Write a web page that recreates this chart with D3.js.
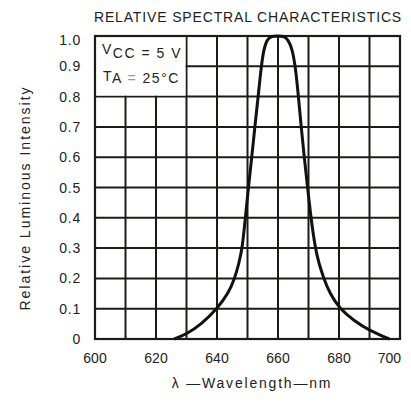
<!DOCTYPE html>
<html>
<head>
<meta charset="utf-8">
<script src="https://cdn.jsdelivr.net/npm/d3@7"></script>
<style>
  html, body { margin: 0; padding: 0; background: #fff; }
  svg { display: block; }
  text { font-family: "Liberation Sans", Arial, Helvetica, sans-serif; fill: #222; }
</style>
</head>
<body>
<svg id="chart" width="411" height="404"></svg>
<script>
// ---- data ----
const wavelength = [626, 630, 635, 640, 643.7, 645.8, 647.2, 648.3, 649.3, 650.3, 651.4, 652.4, 653.5, 654.5, 655.4, 656.5, 658, 660, 661.8, 663.2, 664.6, 665.7, 666.7, 667.6, 668.6, 669.7, 670.8, 672.2, 673.4, 675, 677, 680.2, 685, 690, 696.5];
const intensity  = [0, 0.016, 0.05, 0.1, 0.15, 0.2, 0.25, 0.3, 0.4, 0.5, 0.6, 0.7, 0.8, 0.9, 0.96, 0.99, 1.0, 1.0, 1.0, 0.99, 0.96, 0.9, 0.8, 0.7, 0.6, 0.5, 0.4, 0.3, 0.25, 0.2, 0.15, 0.1, 0.06, 0.028, 0];
const xTicks = [600, 620, 640, 660, 680, 700];
const yTicks = [0, 0.1, 0.2, 0.3, 0.4, 0.5, 0.6, 0.7, 0.8, 0.9, 1.0];
const xGrid = [610, 620, 630, 640, 650, 660, 670, 680, 690];
const yGrid = [0.1, 0.2, 0.3, 0.4, 0.5, 0.6, 0.7, 0.8, 0.9];
const title = "RELATIVE SPECTRAL CHARACTERISTICS";
const xTitle = "λ —Wavelength—nm";
const yTitle = "Relative Luminous Intensity";

// ---- layout ----
const L = 95, R = 400, T = 36, B = 339;
const svg = d3.select("#chart");
const x = d3.scaleLinear().domain([600, 700]).range([L, R]);
const y = d3.scaleLinear().domain([0, 1]).range([B, T]);
const gridColor = "#1c1c14";

// grid
const grid = svg.append("g");
grid.selectAll("line.v").data(xGrid).join("line")
  .attr("x1", d => x(d)).attr("x2", d => x(d))
  .attr("y1", T).attr("y2", B)
  .attr("stroke", gridColor).attr("stroke-width", 2);
grid.selectAll("line.h").data(yGrid).join("line")
  .attr("x1", L).attr("x2", R)
  .attr("y1", d => y(d)).attr("y2", d => y(d))
  .attr("stroke", gridColor).attr("stroke-width", 2);

// legend box (blank grid area)
svg.append("rect")
  .attr("x", x(600) + 1).attr("y", y(1.0))
  .attr("width", x(630) - x(600) - 2).attr("height", y(0.8) - y(1.0) - 1)
  .attr("fill", "#fff");

// border
svg.append("rect")
  .attr("x", L).attr("y", T).attr("width", R - L).attr("height", B - T)
  .attr("fill", "none").attr("stroke", gridColor).attr("stroke-width", 2.2);

// curve
const line = d3.line()
  .x((d, i) => x(wavelength[i]))
  .y((d, i) => y(intensity[i]))
  .curve(d3.curveBasis);
svg.append("path")
  .datum(intensity)
  .attr("d", line)
  .attr("fill", "none")
  .attr("stroke", "#111")
  .attr("stroke-width", 3)
  .attr("stroke-linejoin", "round");

// y tick labels
svg.append("g").selectAll("text").data(yTicks).join("text")
  .attr("x", 81)
  .attr("y", d => y(d) + (d === 1 ? 4 : 0))
  .attr("dy", "0.36em")
  .attr("text-anchor", "end")
  .attr("font-size", 14)
  .attr("letter-spacing", 0.8)
  .text(d => d === 0 ? "0" : d3.format(".1f")(d));

// x tick labels
svg.append("g").selectAll("text").data(xTicks).join("text")
  .attr("x", d => d === 700 ? x(d) + 1 : x(d))
  .attr("y", 363)
  .attr("text-anchor", d => d === 700 ? "end" : "middle")
  .attr("font-size", 14)
  .text(d => d);

// titles
svg.append("text")
  .attr("x", 248).attr("y", 22)
  .attr("text-anchor", "middle")
  .attr("font-size", 14)
  .attr("letter-spacing", 0.85)
  .text(title);

svg.append("text")
  .attr("x", 252).attr("y", 388)
  .attr("text-anchor", "middle")
  .attr("font-size", 14)
  .attr("letter-spacing", 1.8)
  .text(xTitle);

svg.append("text")
  .attr("transform", "translate(30,198) rotate(-90)")
  .attr("text-anchor", "middle")
  .attr("font-size", 14)
  .attr("letter-spacing", 2)
  .text(yTitle);

// legend text
const leg1 = svg.append("text").attr("x", 102).attr("y", 53.5)
  .attr("font-size", 14).attr("letter-spacing", 1.5);
leg1.append("tspan").text("V");
leg1.append("tspan").attr("dy", 4).text("CC = 5 V");

const leg2 = svg.append("text").attr("x", 103).attr("y", 81)
  .attr("font-size", 14).attr("letter-spacing", 1.5);
leg2.append("tspan").text("T");
leg2.append("tspan").attr("dy", 1.5).text("A ");
leg2.append("tspan").attr("fill", "#999").text("=");
leg2.append("tspan").text(" 25°C");
</script>
</body>
</html>
